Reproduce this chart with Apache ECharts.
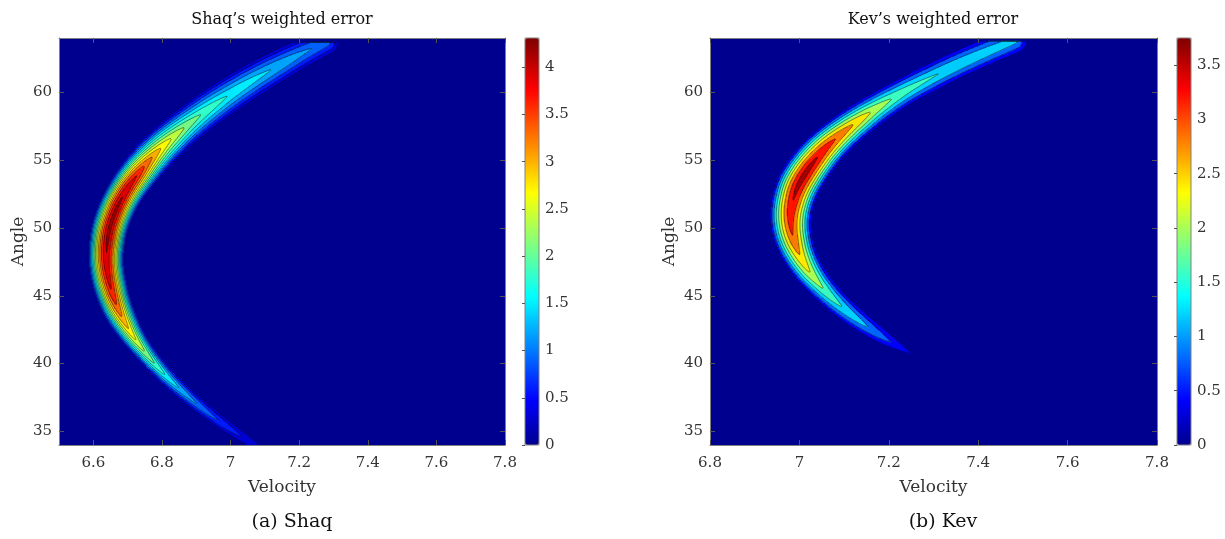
<!DOCTYPE html>
<html><head><meta charset="utf-8">
<script src="https://cdn.jsdelivr.net/npm/echarts@6/dist/echarts.min.js"></script>
<style>html,body{margin:0;padding:0;background:#fff}#c{width:1225px;height:539px}</style>
</head><body><div id="c"></div>
<script>
// ---------------- data ----------------
// Shaq: ridge (crest) of the weighted-error field along the angle:
// crest velocity, half-width of the band across the ridge (velocity units), crest value
const shaqAngle     = [34,35,36,37,38,39,40,41,42,43,44,45,46,47,48,49,50,51,52,53,54,55,56,57,58,59,60,61,62,63,63.7];
const shaqCenter    = [7.069,7.01,6.955,6.904,6.858,6.816,6.779,6.746,6.717,6.693,6.673,6.658,6.647,6.64,6.638,6.641,6.648,6.661,6.679,6.702,6.731,6.764,6.802,6.846,6.895,6.949,7.008,7.072,7.142,7.218,7.278];
const shaqHalfWidth = [0.02,0.023,0.024,0.025,0.027,0.029,0.032,0.035,0.04,0.046,0.051,0.054,0.056,0.057,0.058,0.059,0.059,0.059,0.059,0.06,0.061,0.061,0.06,0.059,0.058,0.058,0.057,0.056,0.053,0.049,0.045];
const shaqPeak      = [0.45,0.7,0.95,1.2,1.45,1.75,2.1,2.45,2.8,3.15,3.5,3.8,4.0,4.12,4.2,4.27,4.31,4.3,4.25,4.1,3.85,3.4,2.95,2.55,2.2,1.95,1.75,1.6,1.45,1.25,1.1];
const shaqMax = 4.31;
const shaqLevelStep = 0.3;
const shaqVelRange = [6.5, 7.8];
const shaqVelTicks = [6.6, 6.8, 7.0, 7.2, 7.4, 7.6, 7.8];
const shaqBarTicks = [0, 0.5, 1, 1.5, 2, 2.5, 3, 3.5, 4];

// Kev
const kevAngle     = [40.7,41,42,43,44,45,46,47,48,49,50,51,52,53,54,55,56,57,58,59,60,61,62,63,63.8];
const kevCenter    = [7.251,7.235,7.185,7.141,7.102,7.069,7.041,7.018,7.001,6.989,6.982,6.981,6.986,6.996,7.013,7.035,7.062,7.096,7.136,7.181,7.232,7.289,7.351,7.42,7.48];
const kevHalfWidth = [0.007,0.012,0.022,0.026,0.029,0.031,0.034,0.038,0.042,0.046,0.049,0.051,0.052,0.053,0.052,0.05,0.047,0.044,0.041,0.038,0.036,0.036,0.036,0.036,0.035];
const kevPeak      = [0.35,0.55,0.95,1.3,1.55,1.85,2.15,2.5,2.8,3.1,3.3,3.45,3.6,3.7,3.75,3.65,3.4,3.05,2.65,2.2,1.85,1.65,1.55,1.45,1.35];
const kevMax = 3.75;
const kevLevelStep = 0.4;
const kevVelRange = [6.8, 7.8];
const kevVelTicks = [6.8, 7.0, 7.2, 7.4, 7.6, 7.8];
const kevBarTicks = [0, 0.5, 1, 1.5, 2, 2.5, 3, 3.5];

const angleRange = [34, 64];
const angleTicks = [35, 40, 45, 50, 55, 60];

// ---------------- helpers ----------------
function jet64() {
  const n = 64, m = 16, u = [];
  for (let k = 1; k <= m; k++) u.push(k / m);
  for (let k = 0; k < m - 1; k++) u.push(1);
  for (let k = m; k >= 1; k--) u.push(k / m);
  const g0 = Math.ceil(m / 2) - (n % 4 === 1 ? 1 : 0);
  const R = new Array(n).fill(0), G = new Array(n).fill(0), B = new Array(n).fill(0);
  for (let k = 0; k < u.length; k++) {
    const gi = g0 + k + 1, ri = gi + m, bi = gi - m;
    if (gi >= 1 && gi <= n) G[gi - 1] = u[k];
    if (ri >= 1 && ri <= n) R[ri - 1] = u[k];
    if (bi >= 1 && bi <= n) B[bi - 1] = u[k];
  }
  const h = x => Math.round(x * 255).toString(16).padStart(2, '0');
  return R.map((r, i) => '#' + h(r) + h(G[i]) + h(B[i]));
}
const JET = jet64();

// smooth (cubic Hermite) interpolation through the read values
function interp(xs, ys, x) {
  const n = xs.length;
  if (x <= xs[0]) return ys[0];
  if (x >= xs[n - 1]) return ys[n - 1];
  let i = 0;
  while (x > xs[i + 1]) i++;
  const tan = k => k === 0 ? (ys[1] - ys[0]) / (xs[1] - xs[0])
    : k === n - 1 ? (ys[n - 1] - ys[n - 2]) / (xs[n - 1] - xs[n - 2])
    : (ys[k + 1] - ys[k - 1]) / (xs[k + 1] - xs[k - 1]);
  const h = xs[i + 1] - xs[i], t = (x - xs[i]) / h;
  const t2 = t * t, t3 = t2 * t;
  return (2*t3 - 3*t2 + 1) * ys[i] + (t3 - 2*t2 + t) * h * tan(i) + (-2*t3 + 3*t2) * ys[i + 1] + (t3 - t2) * h * tan(i + 1);
}

const PROFILE_EXP = 1.4;
// field on a grid: value falls off with the distance to the ridge line (in plot-aspect units)
function buildField(s, rect) {
  const dv = (s.vMax - s.vMin) / s.nx, da = (s.aMax - s.aMin) / s.ny;
  const kx = rect.width / (s.vMax - s.vMin), ky = rect.height / (s.aMax - s.aMin);
  const z = new Float64Array(s.nx * s.ny);
  const a0 = s.angle[0], a1 = s.angle[s.angle.length - 1];
  const step = 0.01, S = [];
  for (let a = a0; a <= a1 + 1e-9; a += step) {
    S.push({ a, X: interp(s.angle, s.center, a) * kx, Y: a * ky,
      W: interp(s.angle, s.halfWidth, a) * kx, P: interp(s.angle, s.peak, a) });
  }
  let maxW = 0; S.forEach(p => { if (p.W > maxW) maxW = p.W; });
  const span = maxW / ky;
  for (let j = 0; j < s.ny; j++) {
    const a = s.aMin + (j + 0.5) * da;
    if (a < a0 || a > a1) continue;
    const Y = a * ky;
    const lo = Math.max(0, Math.floor((a - span - a0) / step)), hi = Math.min(S.length - 1, Math.ceil((a + span - a0) / step));
    let xmin = Infinity, xmax = -Infinity;
    for (let k = lo; k <= hi; k++) { if (S[k].X < xmin) xmin = S[k].X; if (S[k].X > xmax) xmax = S[k].X; }
    for (let i = 0; i < s.nx; i++) {
      const v = s.vMin + (i + 0.5) * dv, X = v * kx;
      if (X < xmin - maxW || X > xmax + maxW) continue;
      let best = Infinity, bk = -1;
      for (let k = lo; k <= hi; k++) {
        const ddx = X - S[k].X, ddy = Y - S[k].Y, d2 = ddx * ddx + ddy * ddy;
        if (d2 < best) { best = d2; bk = k; }
      }
      if (bk < 0) continue;
      const t = Math.sqrt(best) / S[bk].W;
      if (t < 1) z[j * s.nx + i] = S[bk].P * (1 - Math.pow(t, PROFILE_EXP));
    }
  }
  return { z, dv, da };
}

function levelsFor(max, step) {
  const L = [];
  for (let k = 1; k * step < max - 1e-9; k++) L.push(+(k * step).toFixed(6));
  return L;
}

function heatData(z, nx, ny, levels) {
  const out = [];
  for (let j = 0; j < ny; j++) for (let i = 0; i < nx; i++) {
    const v = z[j * nx + i];
    if (v < levels[0]) continue;
    let k = 0;
    while (k < levels.length && v >= levels[k]) k++;
    out.push([i, j, levels[k - 1]]);
  }
  return out;
}

function contourSegs(z, s, dv, da, levels) {
  const nx = s.nx, ny = s.ny, segs = [];
  const X = i => s.vMin + (i + 0.5) * dv, Y = j => s.aMin + (j + 0.5) * da;
  for (let j = 0; j < ny - 1; j++) for (let i = 0; i < nx - 1; i++) {
    const z00 = z[j*nx+i], z10 = z[j*nx+i+1], z01 = z[(j+1)*nx+i], z11 = z[(j+1)*nx+i+1];
    const mx = Math.max(z00, z10, z01, z11);
    if (mx < levels[0]) continue;
    const mn = Math.min(z00, z10, z01, z11);
    for (const L of levels) {
      if (L > mx) break;
      if (L <= mn) continue;
      const p = [];
      if ((z00 >= L) !== (z10 >= L)) { const t = (L - z00) / (z10 - z00); p.push([X(i) + t * dv, Y(j)]); }
      if ((z10 >= L) !== (z11 >= L)) { const t = (L - z10) / (z11 - z10); p.push([X(i+1), Y(j) + t * da]); }
      if ((z11 >= L) !== (z01 >= L)) { const t = (L - z11) / (z01 - z11); p.push([X(i+1) - t * dv, Y(j+1)]); }
      if ((z01 >= L) !== (z00 >= L)) { const t = (L - z01) / (z00 - z01); p.push([X(i), Y(j+1) - t * da]); }
      if (p.length >= 2) segs.push({ coords: [p[0], p[1]] });
      if (p.length === 4) segs.push({ coords: [p[2], p[3]] });
    }
  }
  return segs;
}

// ---------------- build both panels ----------------
const FONT = 'DejaVu Serif';
const rects = {
  shaq: { left: 59, top: 38, width: 446, height: 407 },
  kev:  { left: 710, top: 38, width: 447, height: 407 },
  shaqBar: { left: 525, top: 38, width: 14, height: 407 },
  kevBar:  { left: 1177, top: 38, width: 14, height: 407 }
};
const shaqSpec = { vMin: shaqVelRange[0], vMax: shaqVelRange[1], aMin: angleRange[0], aMax: angleRange[1], nx: 434, ny: 400,
  angle: shaqAngle, center: shaqCenter, halfWidth: shaqHalfWidth, peak: shaqPeak };
const kevSpec = { vMin: kevVelRange[0], vMax: kevVelRange[1], aMin: angleRange[0], aMax: angleRange[1], nx: 447, ny: 400,
  angle: kevAngle, center: kevCenter, halfWidth: kevHalfWidth, peak: kevPeak };

const shaqF = buildField(shaqSpec, rects.shaq), kevF = buildField(kevSpec, rects.kev);
const shaqLevels = levelsFor(shaqMax, shaqLevelStep), kevLevels = levelsFor(kevMax, kevLevelStep);

const fmt = v => String(+(+v).toFixed(2));
const AX = '#808080', TXT = '#333';

function catAxes(n, gridIndex) { return { type: 'category', gridIndex, data: Array.from({ length: n }, (_, i) => i), show: false }; }
function valX(gridIndex, range, ticks, pos, labels, name) {
  return { type: 'value', gridIndex, position: pos, min: range[0], max: range[1], z: 10,
    splitLine: { show: false },
    axisLine: { show: true, onZero: false, lineStyle: { color: AX, width: 1 } },
    axisTick: { show: true, inside: true, length: 5, customValues: ticks, lineStyle: { color: '#555' } },
    axisLabel: { show: labels, customValues: ticks, formatter: fmt, margin: 11, color: TXT, fontFamily: FONT, fontSize: 15 },
    name: labels ? name : '', nameLocation: 'middle', nameGap: 34,
    nameTextStyle: { fontFamily: FONT, fontSize: 17, color: TXT } };
}
function valY(gridIndex, range, ticks, pos, labels, name) {
  return { type: 'value', gridIndex, position: pos, min: range[0], max: range[1], z: 10,
    splitLine: { show: false },
    axisLine: { show: true, onZero: false, lineStyle: { color: AX, width: 1 } },
    axisTick: { show: true, inside: true, length: 5, customValues: ticks, lineStyle: { color: '#555' } },
    axisLabel: { show: labels, customValues: ticks, formatter: fmt, margin: 7, color: TXT, fontFamily: FONT, fontSize: 15 },
    name: labels ? name : '', nameLocation: 'middle', nameGap: 32,
    nameTextStyle: { fontFamily: FONT, fontSize: 17, color: TXT } };
}
function barY(gridIndex, max, ticks) {
  return { type: 'value', gridIndex, position: 'right', min: 0, max, z: 10,
    splitLine: { show: false }, axisLine: { show: false },
    axisTick: { show: true, inside: true, length: 3, customValues: ticks, lineStyle: { color: '#555' } },
    axisLabel: { show: true, customValues: ticks, formatter: fmt, margin: 6, color: TXT, fontFamily: FONT, fontSize: 15 } };
}

const option = {
  animation: false,
  backgroundColor: '#fff',
  grid: [
    Object.assign({ show: true, backgroundColor: JET[0], borderWidth: 0 }, rects.shaq),
    Object.assign({ show: false }, rects.shaq),
    Object.assign({ show: true, backgroundColor: JET[0], borderWidth: 0 }, rects.kev),
    Object.assign({ show: false }, rects.kev),
    Object.assign({ show: true, z: 10, backgroundColor: 'transparent', borderColor: AX, borderWidth: 1 }, rects.shaqBar),
    Object.assign({ show: true, z: 10, backgroundColor: 'transparent', borderColor: AX, borderWidth: 1 }, rects.kevBar)
  ],
  xAxis: [
    catAxes(shaqSpec.nx, 0),
    valX(1, shaqVelRange, shaqVelTicks, 'bottom', true, 'Velocity'),
    valX(1, shaqVelRange, shaqVelTicks, 'top', false, ''),
    catAxes(kevSpec.nx, 2),
    valX(3, kevVelRange, kevVelTicks, 'bottom', true, 'Velocity'),
    valX(3, kevVelRange, kevVelTicks, 'top', false, ''),
    { type: 'value', gridIndex: 4, show: false, min: 0, max: 1 },
    { type: 'value', gridIndex: 5, show: false, min: 0, max: 1 }
  ],
  yAxis: [
    catAxes(shaqSpec.ny, 0),
    valY(1, angleRange, angleTicks, 'left', true, 'Angle'),
    valY(1, angleRange, angleTicks, 'right', false, ''),
    catAxes(kevSpec.ny, 2),
    valY(3, angleRange, angleTicks, 'left', true, 'Angle'),
    valY(3, angleRange, angleTicks, 'right', false, ''),
    barY(4, shaqMax, shaqBarTicks),
    barY(5, kevMax, kevBarTicks)
  ],
  visualMap: [
    { type: 'continuous', seriesIndex: 0, min: 0, max: shaqMax, orient: 'vertical', calculable: false,
      left: rects.shaqBar.left, top: rects.shaqBar.top, itemWidth: rects.shaqBar.width, itemHeight: rects.shaqBar.height,
      padding: 0, text: null, z: 1, inRange: { color: JET } },
    { type: 'continuous', seriesIndex: 2, min: 0, max: kevMax, orient: 'vertical', calculable: false,
      left: rects.kevBar.left, top: rects.kevBar.top, itemWidth: rects.kevBar.width, itemHeight: rects.kevBar.height,
      padding: 0, text: null, z: 1, inRange: { color: JET } }
  ],
  series: [
    { type: 'heatmap', xAxisIndex: 0, yAxisIndex: 0, progressive: 0, silent: true,
      data: heatData(shaqF.z, shaqSpec.nx, shaqSpec.ny, shaqLevels), emphasis: { disabled: true } },
    { type: 'lines', coordinateSystem: 'cartesian2d', xAxisIndex: 1, yAxisIndex: 1, polyline: false, large: true, largeThreshold: 100,
      silent: true, z: 5, lineStyle: { color: '#000', width: 0.6, opacity: 0.75 },
      data: contourSegs(shaqF.z, shaqSpec, shaqF.dv, shaqF.da, shaqLevels) },
    { type: 'heatmap', xAxisIndex: 3, yAxisIndex: 3, progressive: 0, silent: true,
      data: heatData(kevF.z, kevSpec.nx, kevSpec.ny, kevLevels), emphasis: { disabled: true } },
    { type: 'lines', coordinateSystem: 'cartesian2d', xAxisIndex: 4, yAxisIndex: 4, polyline: false, large: true, largeThreshold: 100,
      silent: true, z: 5, lineStyle: { color: '#000', width: 0.6, opacity: 0.75 },
      data: contourSegs(kevF.z, kevSpec, kevF.dv, kevF.da, kevLevels) }
  ],
  graphic: [
    { type: 'text', x: 282, y: 20, style: { text: 'Shaq\u2019s weighted error', fontFamily: FONT, fontSize: 16, fill: '#111', align: 'center', verticalAlign: 'middle' } },
    { type: 'text', x: 933, y: 20, style: { text: 'Kev\u2019s weighted error', fontFamily: FONT, fontSize: 16, fill: '#111', align: 'center', verticalAlign: 'middle' } },
    { type: 'text', x: 292, y: 522, style: { text: '(a) Shaq', fontFamily: FONT, fontSize: 19, fill: '#111', align: 'center', verticalAlign: 'middle' } },
    { type: 'text', x: 943, y: 522, style: { text: '(b) Kev', fontFamily: FONT, fontSize: 19, fill: '#111', align: 'center', verticalAlign: 'middle' } }
  ]
};

const chart = echarts.init(document.getElementById('c'), null, { renderer: 'canvas', width: 1225, height: 539 });
chart.setOption(option);
</script>
</body></html>
